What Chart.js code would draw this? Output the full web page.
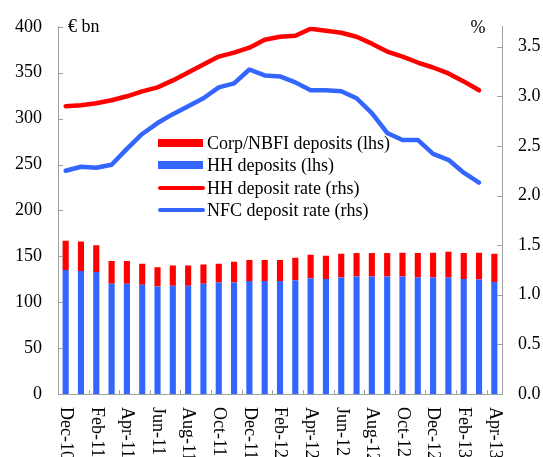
<!DOCTYPE html>
<html>
<head>
<meta charset="utf-8">
<script src="https://cdn.jsdelivr.net/npm/chart.js@4.4.1/dist/chart.umd.min.js"></script>
<style>
  html, body { margin: 0; padding: 0; background: #fff; }
  #wrap { width: 543px; height: 457px; }
</style>
</head>
<body>
<div id="wrap"><canvas id="c" width="543" height="457"></canvas></div>
<script>
const months = ["Dec-10","Jan-11","Feb-11","Mar-11","Apr-11","May-11","Jun-11","Jul-11","Aug-11","Sep-11","Oct-11","Nov-11",
  "Dec-11","Jan-12","Feb-12","Mar-12","Apr-12","May-12","Jun-12","Jul-12","Aug-12","Sep-12","Oct-12","Nov-12",
  "Dec-12","Jan-13","Feb-13","Mar-13","Apr-13"];

// € bn (lhs)
const hhDeposits = [135,134,133,120,120,119,117,118,118,120,121.5,121.5,123,123,123,124,126,125.4,127,128,128,128,128,127,127,127,125.4,124.7,122];
const corpDeposits = [32,32,29,25,25,23,21,22,22,21,20.5,22.5,23,23,23,24.5,25.7,25.2,25.8,25.5,25.5,25.5,26,26.5,27,28,28.1,29.3,30.8];

// % (rhs)
const hhRate = [2.90,2.91,2.93,2.96,3.00,3.05,3.09,3.16,3.24,3.32,3.40,3.44,3.49,3.57,3.60,3.61,3.68,3.66,3.64,3.60,3.53,3.45,3.40,3.34,3.29,3.23,3.15,3.06,null];
const nfcRate = [2.25,2.29,2.28,2.31,2.47,2.62,2.73,2.82,2.90,2.98,3.09,3.13,3.27,3.21,3.20,3.14,3.06,3.06,3.05,2.98,2.83,2.63,2.56,2.56,2.42,2.36,2.23,2.13,null];

// tick labels
const bnTicks = [0, 50, 100, 150, 200, 250, 300, 350, 400];
const rateTicks = [0, 0.5, 1.0, 1.5, 2.0, 2.5, 3.0, 3.5];

const RED = "#ff0000";
const BLUE = "#3366ff";
const AXIS = "#a0a0a0";
const FAMILY = "'Liberation Serif', 'Times New Roman', serif";
const FONT = "18px " + FAMILY;

// inward ticks, rotated month labels, unit captions and the in-plot legend
const decor = {
  id: "decor",
  afterDraw(chart) {
    const ctx = chart.ctx;
    const x = chart.scales.x, y = chart.scales.y, y1 = chart.scales.y1;
    ctx.save();
    ctx.strokeStyle = AXIS;
    ctx.lineWidth = 1;
    ctx.beginPath();
    y.ticks.forEach(t => {
      const py = Math.round(y.getPixelForValue(t.value)) + 0.5;
      ctx.moveTo(x.left, py); ctx.lineTo(x.left + 5, py);
    });
    y1.ticks.forEach(t => {
      const py = Math.round(y1.getPixelForValue(t.value)) + 0.5;
      ctx.moveTo(x.right, py); ctx.lineTo(x.right - 5, py);
    });
    for (let i = 1; i < months.length - 1; i += 2) {
      const px = Math.round((x.getPixelForValue(i) + x.getPixelForValue(i + 1)) / 2) + 0.5;
      ctx.moveTo(px, y.bottom); ctx.lineTo(px, y.bottom - 4);
    }
    ctx.stroke();

    ctx.fillStyle = "#000";
    ctx.font = FONT;
    for (let i = 0; i < months.length; i += 2) {
      ctx.save();
      ctx.translate(x.getPixelForValue(i), y.bottom + 13);
      ctx.rotate(Math.PI / 2);
      ctx.textAlign = "left";
      ctx.textBaseline = "middle";
      ctx.fillText(months[i], 0, 0);
      ctx.restore();
    }

    ctx.textBaseline = "middle";
    ctx.textAlign = "left";
    ctx.fillText("€ bn", 68, 27);
    ctx.textAlign = "center";
    ctx.fillText("%", 478, 28);

    const items = [3, 2, 0, 1].map(k => chart.data.datasets[k]);
    const lx = 158, rows = [143, 165, 188, 210];
    items.forEach((ds, k) => {
      const ry = rows[k];
      if (ds.type === "bar") {
        ctx.fillStyle = ds.backgroundColor;
        ctx.fillRect(lx, ry - 4, 45, 8);
      } else {
        ctx.strokeStyle = ds.borderColor;
        ctx.lineWidth = 4;
        ctx.lineCap = "round";
        ctx.beginPath();
        ctx.moveTo(lx + 2, ry); ctx.lineTo(lx + 45, ry);
        ctx.stroke();
      }
      ctx.fillStyle = "#000";
      ctx.textAlign = "left";
      ctx.fillText(ds.label, lx + 49, ry + 1);
    });
    ctx.restore();
  }
};

new Chart(document.getElementById("c"), {
  data: {
    labels: months,
    datasets: [
      { type: "line", label: "HH deposit rate (rhs)", data: hhRate, yAxisID: "y1",
        borderColor: RED, borderWidth: 4.5, pointRadius: 0, tension: 0,
        borderCapStyle: "round", borderJoinStyle: "round", order: 0 },
      { type: "line", label: "NFC deposit rate (rhs)", data: nfcRate, yAxisID: "y1",
        borderColor: BLUE, borderWidth: 4.5, pointRadius: 0, tension: 0,
        borderCapStyle: "round", borderJoinStyle: "round", order: 0 },
      { type: "bar", label: "HH deposits (lhs)", data: hhDeposits, yAxisID: "y",
        backgroundColor: BLUE, barPercentage: 0.4, categoryPercentage: 1, order: 1 },
      { type: "bar", label: "Corp/NBFI deposits (lhs)", data: corpDeposits, yAxisID: "y",
        backgroundColor: RED, barPercentage: 0.4, categoryPercentage: 1, order: 1 }
    ]
  },
  options: {
    responsive: false,
    animation: false,
    layout: { padding: { top: 23, left: 0, right: 0, bottom: 0 } },
    plugins: { legend: { display: false }, tooltip: { enabled: false } },
    scales: {
      x: {
        stacked: true,
        offset: true,
        grid: { display: false },
        border: { display: true, color: AXIS },
        ticks: { display: false },
        afterFit: s => { s.height = 63; }
      },
      y: {
        position: "left",
        stacked: true,
        min: 0, max: 400,
        grid: { display: false, drawTicks: false },
        border: { display: true, color: AXIS },
        ticks: { padding: 16, color: "#000", font: { family: FAMILY, size: 18 } },
        afterBuildTicks: s => { s.ticks = bnTicks.map(v => ({ value: v })); },
        afterFit: s => { s.width = 58; }
      },
      y1: {
        position: "right",
        min: 0, max: 3.7,
        grid: { display: false, drawTicks: false },
        border: { display: true, color: AXIS },
        ticks: { padding: 16, color: "#000",
          callback: v => v.toFixed(1), font: { family: FAMILY, size: 18 } },
        afterBuildTicks: s => { s.ticks = rateTicks.map(v => ({ value: v })); },
        afterFit: s => { s.width = 41; }
      }
    }
  },
  plugins: [decor]
});
</script>
</body>
</html>
